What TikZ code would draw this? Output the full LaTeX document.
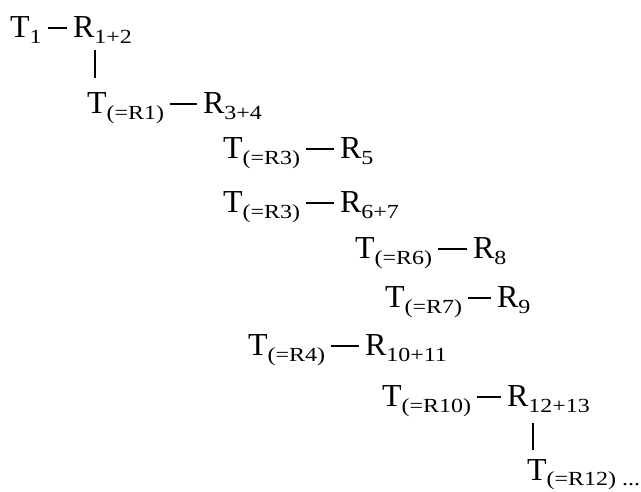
\documentclass[tikz,border=0pt]{standalone}
\usepackage{fontspec}
\setmainfont{Liberation Serif}
\newfontfamily\subfnt[FakeStretch=1.2]{Liberation Serif}
\newcommand{\Sb}[2]{#1\raisebox{-6.5pt}{\fontsize{20}{20}\subfnt #2}}
\begin{document}
\begin{tikzpicture}[x=1pt,y=1pt,
  lbl/.style={anchor=base west, inner sep=0pt, outer sep=0pt, font=\fontsize{32}{32}\selectfont},
  link/.style={line width=1.6pt}]
\useasboundingbox[fill=white] (0,0) rectangle (641,-491);
% row 1
\node[lbl] (t1) at (10,-37) {\Sb{T}{1}};
\node[lbl] (r1) at (73,-37) {\Sb{R}{1+2}};
% row 2
\node[lbl] (t2) at (87,-113) {\Sb{T}{(=R1)}};
\node[lbl] (r2) at (203,-113) {\Sb{R}{3+4}};
% row 3
\node[lbl] (t3) at (223,-158) {\Sb{T}{(=R3)}};
\node[lbl] (r3) at (340,-158) {\Sb{R}{5}};
% row 4
\node[lbl] (t4) at (223,-212) {\Sb{T}{(=R3)}};
\node[lbl] (r4) at (340,-212) {\Sb{R}{6+7}};
% row 5
\node[lbl] (t5) at (355,-258) {\Sb{T}{(=R6)}};
\node[lbl] (r5) at (473,-258) {\Sb{R}{8}};
% row 6
\node[lbl] (t6) at (385,-307) {\Sb{T}{(=R7)}};
\node[lbl] (r6) at (497,-307) {\Sb{R}{9}};
% row 7
\node[lbl] (t7) at (248,-355) {\Sb{T}{(=R4)}};
\node[lbl] (r7) at (365,-355) {\Sb{R}{10+11}};
% row 8
\node[lbl] (t8) at (382,-406) {\Sb{T}{(=R10)}};
\node[lbl] (r8) at (507,-406) {\Sb{R}{12+13}};
% row 9
\node[lbl] (t9) at (527,-480) {T\raisebox{-5pt}{\fontsize{20}{20}\subfnt (=R12) ...}};
% dashes
\foreach \a/\b in {t1/r1,t2/r2,t3/r3,t4/r4,t5/r5,t6/r6,t7/r7,t8/r8}
  \draw[link] ([shift={(6,9)}]\a.base east) -- ([shift={(-6,9)}]\b.base west);
% vertical bars
\draw[link] ([shift={(22,-13)}]r1.base west) -- ([shift={(8,35)}]t2.base west);
\draw[link] ([shift={(26,-17)}]r8.base west) -- ([shift={(6,30)}]t9.base west);
\end{tikzpicture}
\end{document}
